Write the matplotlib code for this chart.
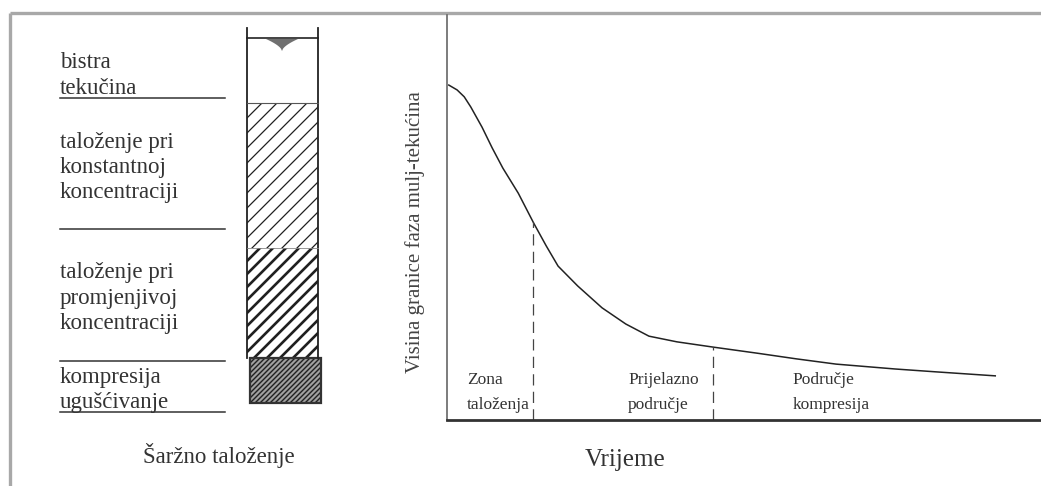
import numpy as np
import matplotlib

matplotlib.use("Agg")
import matplotlib.pyplot as plt
from matplotlib.patches import Rectangle, Polygon

plt.rcParams["font.family"] = ["Liberation Serif", "DejaVu Serif"]

# --- data -------------------------------------------------------------
# settling curve: time (arbitrary units 0..100) vs interface height (0..100)
TIME = [0.3, 1.7, 2.9, 4.0, 5.9, 7.6, 9.4, 12.0, 14.6, 16.7, 18.7, 22.0, 26.1,
        30.1, 34.0, 38.7, 44.8, 52.2, 58.8, 65.5, 75.4, 82.2, 92.3]
HEIGHT = [82.7, 81.5, 79.8, 77.3, 72.3, 67.2, 62.2, 56.0, 48.6, 43.0, 38.0,
          33.1, 27.7, 23.7, 20.7, 19.3, 18.0, 16.5, 15.1, 13.8, 12.6, 11.9, 10.9]
ZONE_LIMITS = [14.5, 44.8]
ZONE_LABELS = ["Zona\ntaloženja", "Prijelazno\npodručje", "Područje\nkompresija"]
ZONE_LABEL_X = [3.4, 30.5, 58.2]

# batch settling column layers (top to bottom)
LAYER_LABELS = [
    "bistra\ntekučina",
    "taloženje pri\nkonstantnoj\nkoncentraciji",
    "taloženje pri\npromjenjivoj\nkoncentraciji",
    "kompresija\nugušćivanje",
]

W, H = 1041, 486
fig = plt.figure(figsize=(W / 100, H / 100), dpi=100)
fig.patch.set_facecolor("white")

# background axes in pixel coordinates for the schematic part
bg = fig.add_axes([0, 0, 1, 1])
bg.set_xlim(0, W)
bg.set_ylim(H, 0)
bg.axis("off")

# scanned page frame
frame_kw = dict(color="#a8a8a8", lw=2.4, solid_capstyle="butt")
bg.plot([10, W], [13, 13], **frame_kw)
bg.plot([10, 10], [13, H], **frame_kw)

# --- settling column ---------------------------------------------------
tube_left, tube_right = 247, 318
tube_top, surface = 28, 38
layer_edges = [38, 103, 248, 358, 403]
hatch_spacing = [None, 15, 13, 5]
hatch_lw = [0, 0.9, 1.9, 1.0]
face_colors = ["white", "white", "white", "#a0a0a0"]

for i in range(4):
    y0, y1 = layer_edges[i], layer_edges[i + 1]
    left = tube_left if i < 3 else tube_left + 3
    right = tube_right if i < 3 else tube_right + 3
    rect = Rectangle((left, y0), right - left, y1 - y0, facecolor=face_colors[i],
                     edgecolor="none", zorder=1)
    bg.add_patch(rect)
    if hatch_spacing[i]:
        h = y1 - y0
        for k in np.arange(left - h, right + hatch_spacing[i], hatch_spacing[i]):
            ln, = bg.plot([k, k + h], [y1, y0], color="#202020", lw=hatch_lw[i], zorder=2)
            ln.set_clip_path(rect)
    if i == 3:
        bg.add_patch(Rectangle((left, y0), right - left, y1 - y0, facecolor="none",
                               edgecolor="#333333", lw=1.6, zorder=3))

bg.plot([tube_left, tube_left], [tube_top, layer_edges[3]], color="#222222", lw=1.3, zorder=3)
bg.plot([tube_right, tube_right], [tube_top, layer_edges[3]], color="#222222", lw=1.3, zorder=3)
bg.plot([tube_left, tube_right], [surface, surface], color="#222222", lw=1.2, zorder=3)
bg.plot([tube_left, tube_right], [layer_edges[1], layer_edges[1]], color="#555555", lw=0.8, zorder=3)
bg.plot([tube_left, tube_right], [layer_edges[2], layer_edges[2]], color="#888888", lw=0.6, zorder=3)

# water surface symbol (meniscus)
mx = np.linspace(-16, 16, 33)
my = surface + 1 + 12 * (1 - (np.abs(mx) / 16) ** 0.6)
bg.add_patch(Polygon(np.column_stack([282 + mx, my]), closed=True,
                     facecolor="#707070", edgecolor="none", zorder=3))

# layer labels and separator lines
label_rows = [[63, 88], [142, 167, 192], [272, 298, 323], [377, 402]]
separators = [98, 229, 361, 412]
for lines, rows, sep in zip(LAYER_LABELS, label_rows, separators):
    for text, y in zip(lines.split("\n"), rows):
        bg.text(60, y, text, fontsize=16.5, color="#333333", ha="left", va="center")
    bg.plot([60, 225], [sep, sep], color="#333333", lw=1.1)

bg.text(219, 455, "Šaržno taloženje", fontsize=16.5, color="#333333", ha="center", va="center")

# --- settling curve ----------------------------------------------------
ax_left, ax_right, ax_top, ax_bottom = 447, W, 15, 420
ax = fig.add_axes([ax_left / W, (H - ax_bottom) / H, (ax_right - ax_left) / W,
                   (ax_bottom - ax_top) / H])
ax.patch.set_alpha(0)
ax.set_xlim(0, 100)
ax.set_ylim(0, 100)
for side in ("top", "right"):
    ax.spines[side].set_visible(False)
ax.spines["left"].set_color("#666666")
ax.spines["left"].set_linewidth(1.2)
ax.spines["bottom"].set_color("#333333")
ax.spines["bottom"].set_linewidth(2.0)
ax.set_xticks([])
ax.set_yticks([])

ax.plot(TIME, HEIGHT, color="#222222", lw=1.1)
for t in ZONE_LIMITS:
    ax.plot([t, t], [0, np.interp(t, TIME, HEIGHT)], color="#444444", lw=0.9,
            dashes=(9, 5))

for x, text in zip(ZONE_LABEL_X, ZONE_LABELS):
    top, bottom = text.split("\n")
    ax.text(x, 9.9, top, fontsize=12.5, color="#333333", ha="left", va="center")
    ax.text(x, 3.7, bottom, fontsize=12.5, color="#333333", ha="left", va="center")

bg.text(415, 232, "Visina granice faza mulj-tekućina", fontsize=15, color="#444444",
        rotation=90, ha="center", va="center")
bg.text(625, 460, "Vrijeme", fontsize=18, color="#333333", ha="center", va="center")

fig.savefig("out.png", dpi=100)
